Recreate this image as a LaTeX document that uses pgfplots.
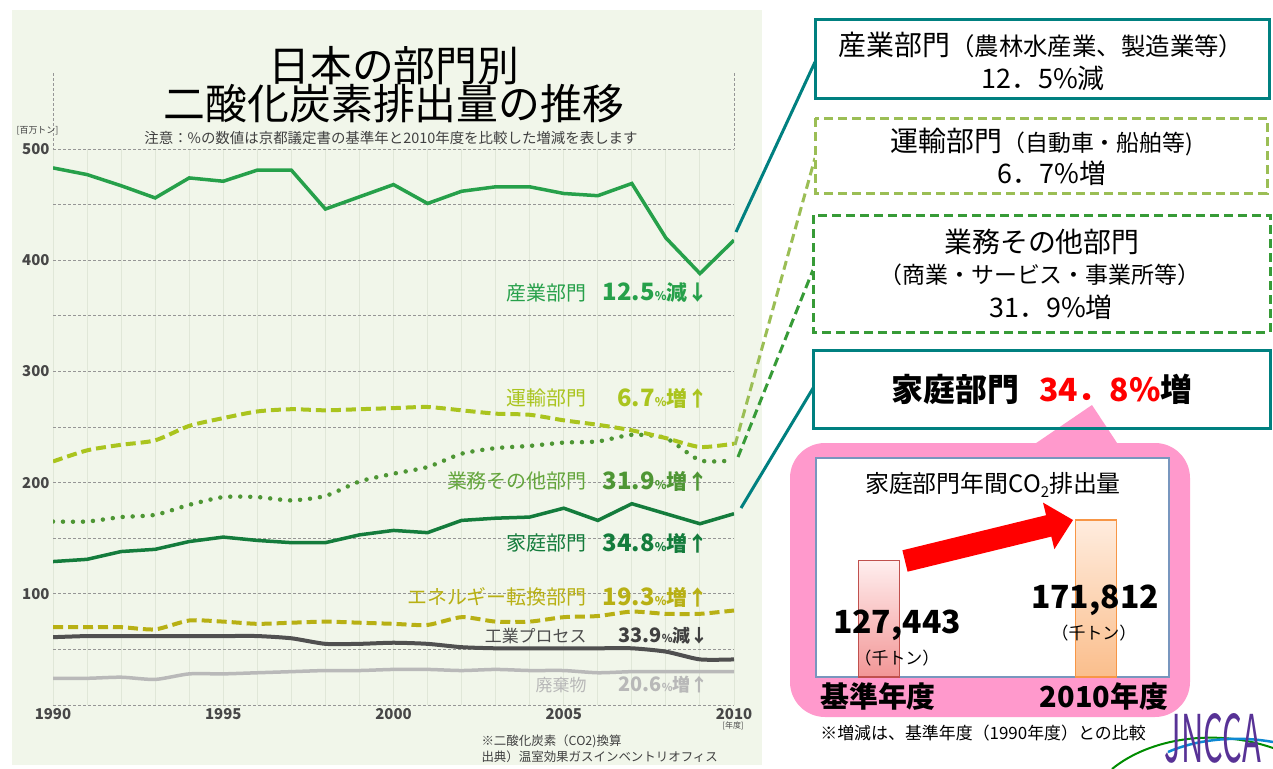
\documentclass[border=0pt]{standalone}
\usepackage{fontspec}
\setmainfont{Noto Sans CJK JP}
\usepackage{pgfplots}
\usepackage{pgfplotstable}
\pgfplotsset{compat=1.18}

\definecolor{panel}{RGB}{241,246,234}
\definecolor{gridgray}{RGB}{150,150,150}
\definecolor{yeargrid}{RGB}{224,231,216}
\definecolor{indgreen}{RGB}{38,160,74}
\definecolor{trans}{RGB}{170,196,30}
\definecolor{comm}{RGB}{78,150,52}
\definecolor{commtxt}{RGB}{100,165,60}
\definecolor{house}{RGB}{20,124,60}
\definecolor{energy}{RGB}{184,176,20}
\definecolor{proc}{RGB}{80,80,80}
\definecolor{waste}{RGB}{185,185,185}
\definecolor{teal2}{RGB}{0,128,128}
\definecolor{box2}{RGB}{155,190,85}
\definecolor{box3}{RGB}{55,155,55}
\definecolor{pinkbg}{RGB}{255,153,204}
\definecolor{insetborder}{RGB}{120,150,190}
\definecolor{jnpurple}{RGB}{88,50,150}

% CO2 emissions by sector, million t
\pgfplotstableread{
year ind trans comm house energy proc waste
1990 483 219 165 129 70 61 24
1991 477 229 165 131 70 62 24
1992 467 234 169 138 70 62 25
1993 456 238 171 140 68 62 23
1994 474 251 180 147 76 62 28
1995 471 258 187 151 75 62 28
1996 481 264 187 148 73 62 29
1997 481 266 184 146 74 60 30
1998 446 265 188 146 75 55 31
1999 457 266 201 153 74 55 31
2000 468 267 208 157 73 56 32
2001 451 268 214 155 72 55 32
2002 462 265 226 166 79 52 31
2003 466 262 231 168 75 51 32
2004 466 261 233 169 75 51 31
2005 460 256 236 177 79 51 31
2006 458 252 237 166 80 51 29
2007 469 247 243 181 84 51 30
2008 420 240 240 172 82 48 30
2009 388 232 220 163 82 41 30
2010 418 235 220 172 85 41 30
}\co

\newcommand{\fs}[1]{\fontsize{#1}{#1}\selectfont}
\newcommand{\val}[3]{{\bfseries\fs{24}#1{\fs{12}\%}\fs{21}#2#3}}

\begin{document}
\begin{tikzpicture}
\begin{scope}[x=1bp,y=-1bp]
  \fill[white] (0,0) rectangle (1273,769);
  \fill[panel] (12,10) rectangle (762,765);
  \draw[gridgray, line width=0.9bp, dash pattern=on 3bp off 2bp] (53,73) -- (53,705) (734,73) -- (734,705);
\end{scope}

\begin{axis}[
  at={(53bp,-705bp)}, anchor=south west,
  scale only axis, width=681bp, height=556bp,
  xmin=1990, xmax=2010, ymin=0, ymax=500,
  axis line style={draw=none},
  tick style={draw=none},
  xtick={1990,1995,...,2010},
  minor xtick={1991,...,2009},
  ytick={0,50,...,500},
  yticklabels={,,100,,200,,300,,400,,500},
  xmajorgrids, xminorgrids, ymajorgrids,
  x grid style={yeargrid, line width=1bp},
  y grid style={gridgray, line width=0.9bp, dash pattern=on 3bp off 2bp},
  tick label style={font=\fs{15}\bfseries, text=black!72},
  /pgf/number format/assume math mode=true,
  xticklabel style={/pgf/number format/1000 sep={}},
]
\addplot[waste, line width=3.5bp, smooth, tension=0.4] table[x=year, y=waste] {\co};
\addplot[proc, line width=4bp, smooth, tension=0.4] table[x=year, y=proc] {\co};
\addplot[energy, line width=4bp, smooth, tension=0.4, dash pattern=on 10bp off 5bp] table[x=year, y=energy] {\co};
\addplot[house, line width=3.5bp] table[x=year, y=house] {\co};
\addplot[comm, line width=4.5bp, smooth, tension=0.4, line cap=round, dash pattern=on 0bp off 10bp] table[x=year, y=comm] {\co};
\addplot[trans, line width=4bp, smooth, tension=0.4, dash pattern=on 10bp off 5bp] table[x=year, y=trans] {\co};
\addplot[indgreen, line width=3.5bp] table[x=year, y=ind] {\co};
\end{axis}

\begin{scope}[x=1bp,y=-1bp]
  % title and notes
  \node[font=\fs{42}] at (394,66) {日本の部門別};
  \node[font=\fs{42}] at (394,104) {二酸化炭素排出量の推移};
  \node[font=\fs{14.5}, text=black!75] at (391,138) {注意：\%の数値は京都議定書の基準年と2010年度を比較した増減を表します};
  \node[font=\fs{9}, text=black!75, anchor=west] at (13,131) {[百万トン]};
  \node[font=\fs{8}, text=black!70] at (733,726) {[年度]};
  \node[font=\fs{12.5}, text=black!75, anchor=west] at (478,741) {※二酸化炭素（CO2)換算};
  \node[font=\fs{12.5}, text=black!75, anchor=west] at (478,757) {出典）温室効果ガスインベントリオフィス};

  % sector labels
  \node[anchor=east, text=indgreen, font=\fs{20}] at (590,293) {産業部門};
  \node[anchor=east, text=indgreen] at (712,293) {\val{12.5}{減}{↓}};
  \node[anchor=east, text=trans, font=\fs{20}] at (590,398) {運輸部門};
  \node[anchor=east, text=trans] at (712,398) {\val{6.7}{増}{↑}};
  \node[anchor=east, text=commtxt, font=\fs{20}] at (590,481) {業務その他部門};
  \node[anchor=east, text=comm] at (712,481) {\val{31.9}{増}{↑}};
  \node[anchor=east, text=house, font=\fs{20}] at (590,543) {家庭部門};
  \node[anchor=east, text=house] at (712,543) {\val{34.8}{増}{↑}};
  \node[anchor=east, text=energy, font=\fs{20}] at (590,597) {エネルギー転換部門};
  \node[anchor=east, text=energy] at (712,597) {\val{19.3}{増}{↑}};
  \node[anchor=east, text=black!70, font=\fs{17}] at (590,636) {工業プロセス};
  \node[anchor=east, text=black!75] at (712,636) {{\bfseries\fs{20}33.9{\fs{11}\%}\fs{18}減↓}};
  \node[anchor=east, text=black!28, font=\fs{17}] at (590,685) {廃棄物};
  \node[anchor=east, text=black!28] at (712,685) {{\bfseries\fs{20}20.6{\fs{11}\%}\fs{18}増↑}};

  % connectors
  \draw[teal2, line width=3bp] (736,232) -- (815,62);
  \draw[box2, line width=3bp, dash pattern=on 9bp off 5bp] (735,445) -- (815,158);
  \draw[box3, line width=3bp, dash pattern=on 9bp off 5bp] (738,457) -- (813,270);
  \draw[teal2, line width=3bp] (741,508) -- (815,385);

  % boxes on the right
  \draw[teal2, line width=3bp, fill=white] (815,19) rectangle (1269,98);
  \node[font=\fs{28}] at (1041,45) {産業部門{\fs{24.5}（農林水産業、製造業等）}};
  \node[font=\fs{27}] at (1043,78) {12．5\%減};

  \draw[box2, line width=3bp, fill=white, dash pattern=on 9bp off 5bp] (815,118) rectangle (1267,193);
  \node[font=\fs{28}] at (1042,142) {運輸部門{\fs{23}（自動車・船舶等)}};
  \node[font=\fs{27}] at (1052,173) {6．7\%増};

  \draw[box3, line width=3bp, fill=white, dash pattern=on 9bp off 5bp] (813,215) rectangle (1270,332);
  \node[font=\fs{28}] at (1042,242) {業務その他部門};
  \node[font=\fs{23}] at (1040,275) {（商業・サービス・事業所等）};
  \node[font=\fs{27}] at (1051,307) {31．9\%増};

  \fill[white] (813,350) rectangle (1270,428);
  % pink callout
  \fill[pinkbg, rounded corners=35bp] (790,443) rectangle (1190,717);
  \fill[pinkbg] (1023,452) -- (1092,405) -- (1123,452) -- cycle;
  \draw[teal2, line width=3bp] (813,350) rectangle (1270,428);
  \node[font=\fs{32}\bfseries] at (1042,389) {家庭部門\hspace{20bp}\textcolor{red}{34．8\%}増};

  \draw[insetborder, line width=1.2bp, fill=white] (816,458) rectangle (1169,677);
  \node[font=\fs{24}] at (993,485) {家庭部門年間CO\raisebox{-0.4ex}{\fs{15}2}排出量};
\end{scope}

\begin{axis}[
  at={(816bp,-677bp)}, anchor=south west,
  scale only axis, width=353bp, height=219bp,
  xmin=-0.29, xmax=1.336, ymin=0, ymax=239666,
  axis line style={draw=none},
  xtick=\empty, ytick=\empty,
]
\addplot[ybar, bar width=41bp, bar shift=0pt, draw={rgb,255:red,192;green,80;blue,77}, line width=1.2bp,
  top color={rgb,255:red,255;green,238;blue,238}, bottom color={rgb,255:red,242;green,150;blue,150}]
  coordinates {(0,127443)};
\addplot[ybar, bar width=41bp, bar shift=0pt, draw={rgb,255:red,247;green,150;blue,70}, line width=1.2bp,
  top color={rgb,255:red,255;green,236;blue,222}, bottom color={rgb,255:red,250;green,190;blue,140}]
  coordinates {(1,171812)};
\end{axis}

\begin{scope}[x=1bp,y=-1bp]
  \fill[red] (902.4,550.3) -- (1046.1,515.2) -- (1043.0,502.6) -- (1073,520) -- (1054.4,549.2) -- (1051.3,536.6) -- (907.6,571.7) -- cycle;
  \node[font=\fs{32}\bfseries] at (897,625) {127,443};
  \node[font=\fs{17}] at (897,658) {（千トン）};
  \node[font=\fs{32}\bfseries] at (1095,600) {171,812};
  \node[font=\fs{17}] at (1094,633) {（千トン）};
  \node[font=\fs{29}\bfseries] at (878,697) {基準年度};
  \node[font=\fs{29}\bfseries] at (1104,697) {2010年度};
  \node[font=\fs{17}] at (983,733) {※増減は、基準年度（1990年度）との比較};

  % logo
  \draw[green!55!black, line width=2bp] (1112,769) .. controls (1150,738) and (1215,728) .. (1273,748);
  \draw[cyan!70!blue, line width=2.5bp] (1168,752) .. controls (1200,738) and (1240,736) .. (1273,742);
  \node[font=\fs{66}, text=jnpurple, xscale=0.47] at (1213,738) {JNCCA};
\end{scope}

\pgfresetboundingbox
\path[use as bounding box] (0,0) rectangle (1273bp,-769bp);
\end{tikzpicture}
\end{document}
